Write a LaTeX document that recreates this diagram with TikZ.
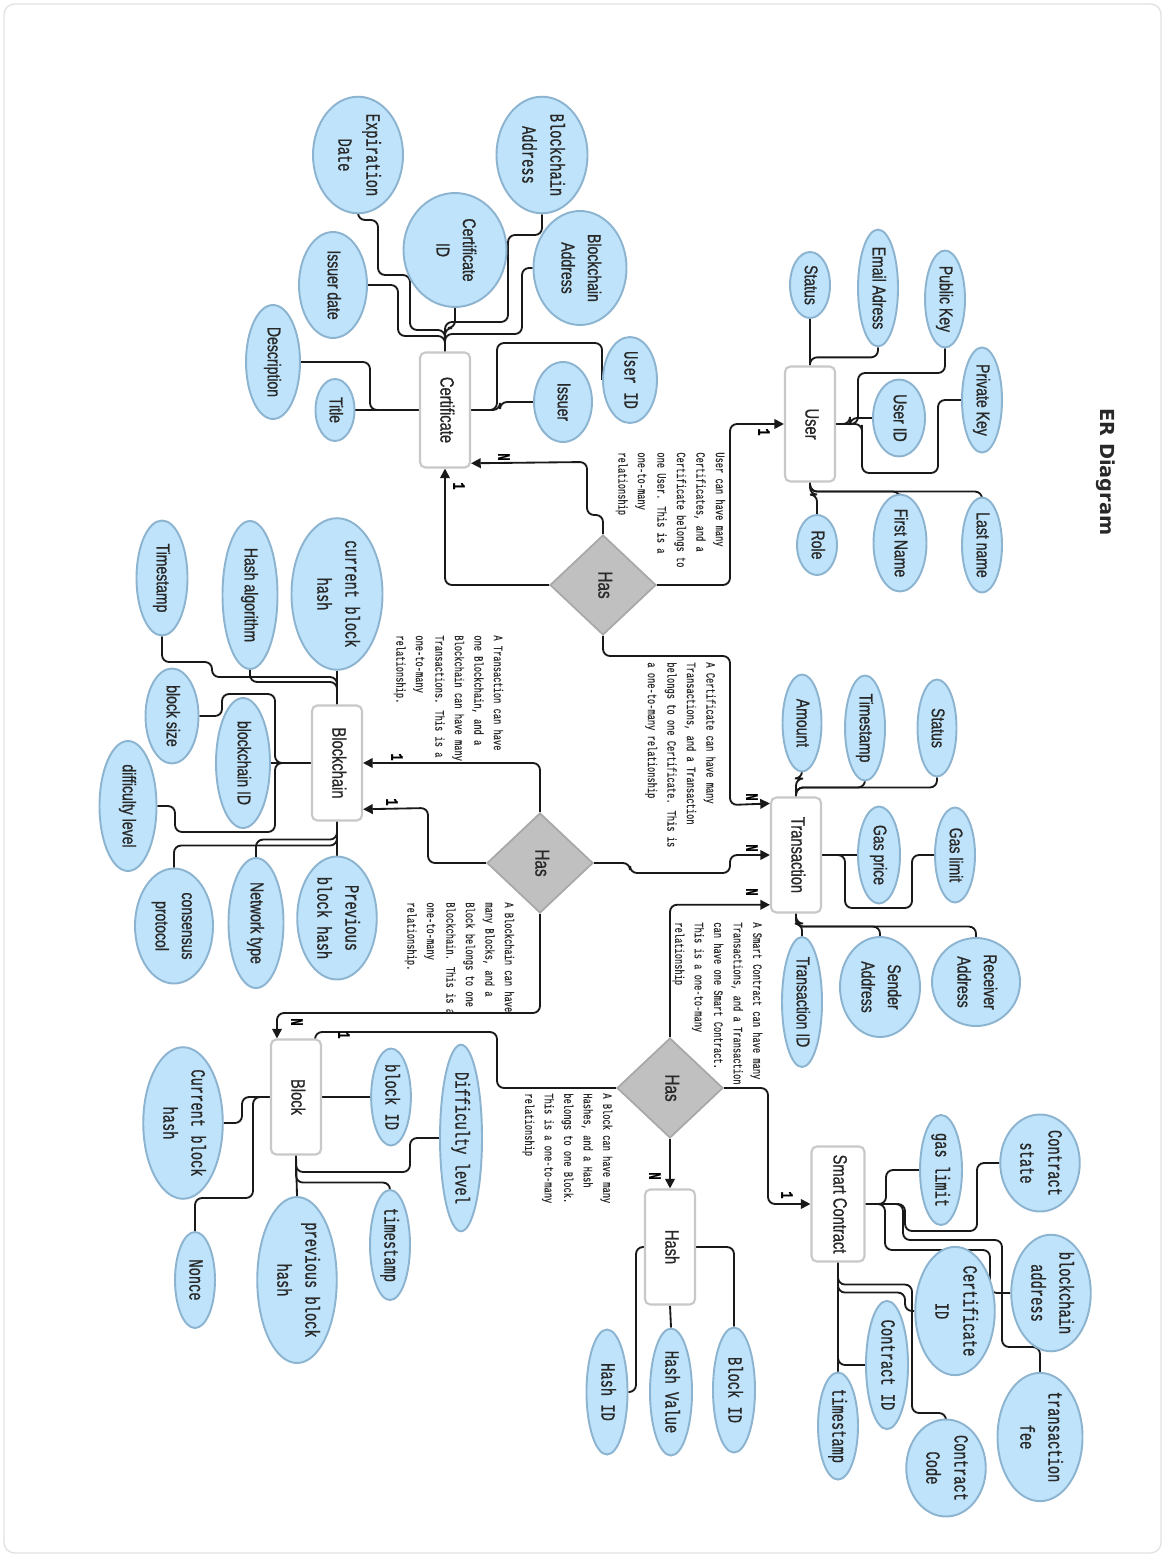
\documentclass[tikz,border=0pt]{standalone}
\usepackage{fontspec}
\usepackage{graphicx}
\setmainfont{Liberation Sans}
\newfontfamily\attrsans[FakeStretch=0.76, FakeBold=0.9]{Liberation Sans}
\newfontfamily\attrmono[FakeStretch=0.68, FakeBold=0.7]{Liberation Mono}
\newfontfamily\notemono[FakeStretch=0.68, FakeBold=0.3]{Liberation Mono}
\newfontfamily\titlefont{DejaVu Sans}
\usetikzlibrary{shapes.geometric, arrows.meta, backgrounds, calc}
\definecolor{attrfill}{RGB}{190,227,250}
\definecolor{attrline}{RGB}{140,180,208}
\definecolor{entline}{RGB}{200,200,200}
\definecolor{relfill}{RGB}{192,192,192}
\definecolor{relline}{RGB}{168,168,168}
\definecolor{inkgray}{RGB}{40,40,40}
\definecolor{pageline}{RGB}{226,226,226}
\newcommand{\vtext}[1]{\rotatebox{-90}{\begin{tabular}{@{}c@{}}#1\end{tabular}}}
\newcommand{\vnote}[1]{\rotatebox{-90}{\begin{tabular}{@{}l@{}}#1\end{tabular}}}
\tikzset{
  attr/.style 2 args={ellipse, draw=attrline, line width=1.1pt, fill=attrfill,
                      inner sep=0pt, minimum width=#1*0.02cm,
                      minimum height=#2*0.02cm, text=inkgray},
  sanslbl/.style={font=\attrsans\fontsize{10.5}{15}\selectfont},
  monolbl/.style={font=\attrmono\fontsize{11.5}{16}\selectfont},
  entity/.style={rectangle, rounded corners=3pt, draw=entline, line width=1.2pt,
                 fill=white, inner sep=0pt, minimum width=50*0.02cm,
                 minimum height=115*0.02cm, text=inkgray,
                 font=\attrsans\fontsize{11}{13}\selectfont},
  rel/.style={diamond, draw=relline, line width=1pt, fill=relfill, inner sep=0pt,
              minimum width=106*0.02cm, minimum height=100*0.02cm, text=inkgray,
              font=\attrsans\fontsize{11.5}{13}\selectfont},
  link/.style={line width=1.05pt, rounded corners=4pt, color=black!90},
  arrow/.style={link, -{Triangle[length=5.5pt, width=5.5pt]}},
  note/.style={inner sep=0pt, anchor=north, text=inkgray,
               font=\notemono\fontsize{7.3}{11.1}\selectfont},
  card/.style={inner sep=0pt, text=black,
               font=\attrmono\bfseries\fontsize{10}{11}\selectfont},
}

\begin{document}
\begin{tikzpicture}[x=0.02cm, y=-0.02cm]
  \useasboundingbox (0,0) rectangle (1166,1557);

  \node[font=\titlefont\bfseries\fontsize{11}{13}\selectfont, text=inkgray]
    (heading) at (1105,472) {\vtext{ER Diagram}};

  % Entities
  \node[entity] (cert) at (445,410) {\vtext{Certificate}};
  \node[entity] (user) at (810,424) {\vtext{User}};
  \node[entity] (bchain) at (337,763) {\vtext{Blockchain}};
  \node[entity] (trans) at (796,855) {\vtext{Transaction}};
  \node[entity] (block) at (296,1097) {\vtext{Block}};
  \node[entity] (hash) at (670,1247) {\vtext{Hash}};
  \node[entity, minimum width=53*0.02cm] (sc) at (838,1204) {\vtext{Smart Contract}};

  % Relationships
  \node[rel] (has1) at (603,585) {\vtext{Has}};
  \node[rel] (has2) at (540,863) {\vtext{Has}};
  \node[rel] (has3) at (670,1088) {\vtext{Has}};

  % Certificate attributes
  \node[attr={90}{115}, monolbl] (expd) at (358,155) {\vtext{Expiration\\Date}};
  \node[attr={91}{115}, monolbl] (bca1) at (542,155) {\vtext{Blockchain\\Address}};
  \node[attr={103}{114}, sanslbl] (cid) at (455,250) {\vtext{Certificate\\ID}};
  \node[attr={93}{114}, sanslbl] (bca2) at (580,268) {\vtext{Blockchain\\Address}};
  \node[attr={68}{106}, sanslbl] (isd) at (333,285) {\vtext{Issuer date}};
  \node[attr={54}{114}, sanslbl] (desc) at (273,362) {\vtext{Description}};
  \node[attr={39}{62}, sanslbl] (ctitle) at (335,410) {\vtext{Title}};
  \node[attr={58}{80}, sanslbl] (issuer) at (563,402) {\vtext{Issuer}};
  \node[attr={54}{86}, monolbl] (uid1) at (630,380) {\vtext{User ID}};

  % User attributes
  \node[attr={40}{66}, sanslbl] (ustat) at (810,285) {\vtext{Status}};
  \node[attr={40}{113}, sanslbl] (email) at (878,288) {\vtext{Email Adress}};
  \node[attr={40}{97}, sanslbl] (pkey) at (945,299) {\vtext{Public Key}};
  \node[attr={40}{105}, sanslbl] (prkey) at (982,400) {\vtext{Private Key}};
  \node[attr={52}{77}, sanslbl] (uid2) at (899,418) {\vtext{User ID}};
  \node[attr={40}{60}, sanslbl] (role) at (817,545) {\vtext{Role}};
  \node[attr={53}{93}, sanslbl] (fname) at (900,543) {\vtext{First Name}};
  \node[attr={40}{95}, sanslbl] (lname) at (982,545) {\vtext{Last name}};

  % Blockchain attributes
  \node[attr={91}{148}, monolbl] (cbh) at (337,594) {\vtext{current block\\hash}};
  \node[attr={55}{148}, sanslbl] (halg) at (250,595) {\vtext{Hash algorithm}};
  \node[attr={51}{115}, sanslbl] (bts) at (162,578) {\vtext{Timestamp}};
  \node[attr={53}{95}, sanslbl] (bsize) at (172,716) {\vtext{block size}};
  \node[attr={54}{130}, sanslbl] (bid) at (243,763) {\vtext{blockchain ID}};
  \node[attr={57}{130}, sanslbl] (dlevel) at (128,806) {\vtext{difficulty level}};
  \node[attr={77}{123}, monolbl] (pbh) at (337,918) {\vtext{Previous\\block hash}};
  \node[attr={55}{130}, sanslbl] (ntype) at (256,923) {\vtext{Network type}};
  \node[attr={78}{115}, sanslbl] (cprot) at (174,926) {\vtext{consensus\\protocol}};

  % Transaction attributes
  \node[attr={39}{97}, sanslbl] (amount) at (802,723) {\vtext{Amount}};
  \node[attr={40}{105}, sanslbl] (tts) at (865,728) {\vtext{Timestamp}};
  \node[attr={39}{97}, sanslbl] (tstat) at (937,728) {\vtext{Status}};
  \node[attr={42}{97}, sanslbl] (gprice) at (879,855) {\vtext{Gas price}};
  \node[attr={40}{95}, sanslbl] (glimit) at (955,855) {\vtext{Gas limit}};
  \node[attr={40}{130}, sanslbl] (tid) at (802,1002) {\vtext{Transaction ID}};
  \node[attr={80}{100}, sanslbl] (saddr) at (880,987) {\vtext{Sender\\Address}};
  \node[attr={88}{88}, sanslbl] (raddr) at (976,982) {\vtext{Receiver\\Address}};

  % Block attributes
  \node[attr={77}{148}, monolbl] (bcbh) at (183,1123) {\vtext{Current block\\hash}};
  \node[attr={39}{97}, monolbl] (bbid) at (391,1097) {\vtext{block ID}};
  \node[attr={42}{180}, monolbl] (bdl) at (461,1138) {\vtext{Difficulty level}};
  \node[attr={40}{110}, monolbl] (bts2) at (390,1245) {\vtext{timestamp}};
  \node[attr={79}{166}, monolbl] (bpbh) at (297,1280) {\vtext{previous block\\hash}};
  \node[attr={40}{96}, monolbl] (nonce) at (195,1280) {\vtext{Nonce}};

  % Hash attributes
  \node[attr={41}{125}, monolbl] (hid) at (607,1392) {\vtext{Hash ID}};
  \node[attr={42}{127}, monolbl] (hval) at (671,1392) {\vtext{Hash Value}};
  \node[attr={42}{125}, monolbl] (hbid) at (734,1390) {\vtext{Block ID}};

  % Smart Contract attributes
  \node[attr={42}{110}, monolbl] (sglim) at (941,1170) {\vtext{gas limit}};
  \node[attr={76}{97}, monolbl] (cstate) at (1040,1163) {\vtext{Contract\\state}};
  \node[attr={78}{115}, monolbl] (bcaddr) at (1051,1293) {\vtext{blockchain\\address}};
  \node[attr={75}{123}, monolbl] (sccid) at (955,1311) {\vtext{Certificate\\ID}};
  \node[attr={42}{125}, monolbl] (scid) at (887,1365) {\vtext{Contract ID}};
  \node[attr={40}{107}, monolbl] (tsc) at (838,1426) {\vtext{timestamp}};
  \node[attr={85}{125}, monolbl] (tfee) at (1040,1437) {\vtext{transaction\\fee}};
  \node[attr={77}{97}, monolbl] (ccode) at (946,1468) {\vtext{Contract\\Code}};

  % Relationship notes
  \node[note] (note1) at (671,452) {\vnote{User can have many\\Certificates, and a\\Certificate belongs to\\one User. This is a\\one-to-many\\relationship}};
  \node[note] (note2) at (681,662) {\vnote{A Certificate can have many\\Transactions, and a Transaction\\belongs to one Certificate. This is\\a one-to-many relationship}};
  \node[note] (note3) at (449,635) {\vnote{A Transaction can have\\one Blockchain, and a\\Blockchain can have many\\Transactions. This is a\\one-to-many\\relationship.}};
  \node[note] (note4) at (460,902) {\vnote{A Blockchain can have\\many Blocks, and a\\Block belongs to one\\Blockchain. This is a\\one-to-many\\relationship.}};
  \node[note] (note5) at (718,922) {\vnote{A Smart Contract can have many\\Transactions, and a Transaction\\can have one Smart Contract.\\This is a one-to-many\\relationship}};
  \node[note] (note6) at (568,1093) {\vnote{A Block can have many\\Hashes, and a Hash\\belongs to one Block.\\This is a one-to-many\\relationship}};

  \begin{scope}[on background layer]
    \draw[pageline, line width=0.8pt, rounded corners=6pt] (4,4) rectangle (1161,1553);

    % Certificate links
    \draw[link] (expd.south) |- (378,220) -- (378,275) -| (410,330) -| (cert.north);
    \draw[link] (bca1.south) -- (542,235) -| (508,322) -| (cert.north);
    \draw[link] (cid.south) -- (455,328) -| (cert.north);
    \draw[link] (isd.east) -| (398,336) -| (cert.north);
    \draw[link] (bca2.west) -| (522,334) -| (cert.north);
    \draw[link] (desc.east) -| (370,410) -- (cert.west);
    \draw[link] (ctitle.east) -- (cert.west);
    \draw[link] (issuer.west) -| (500,410) -- (cert.east);
    \draw[link] (cert.east) -| (497,343) -| (uid1.west);

    % Certificate relationship
    \draw[arrow] (has1.north) -- (603,515) -| (587,462) -- ([yshift=3pt]cert.south east)
      node[card] at (502,457) {\vtext{N}};
    \draw[arrow] (has1.west) -| (cert.south)
      node[card] at (457,486) {\vtext{1}};
    \draw[arrow] (has1.east) -| (730,424) -- (user.west)
      node[card] at (762,432) {\vtext{1}};
    \draw[arrow] (has1.south) -- (603,656) -| (730,805) -- ([yshift=-4pt]trans.north west)
      node[card] at (750,797) {\vtext{N}};

    % User links
    \draw[link] (ustat.south) -- (user.north);
    \draw[link] (email.south) -- ++(0,10) -| (user.north);
    \draw[link] (pkey.south) |- (858,373) |- (user.east);
    \draw[link] (uid2.west) -| (850,424) -- (user.east);
    \draw[link] (prkey.west) -| (938,473) -| (862,432) |- (user.east);
    \draw[link] (user.south) -- ++(0,12) -| (role.north);
    \draw[link] (user.south) -- ++(0,9) -| (fname.north);
    \draw[link] (user.south) -- ++(0,9) -| (lname.north);

    % Blockchain links
    \draw[link] (cbh.south) -- (bchain.north);
    \draw[link] (halg.south) -- ++(0,12) -| (bchain.north);
    \draw[link] (bts.south) |- (212,662) -- (212,677) -| (bchain.north);
    \draw[link] (bsize.east) -| (222,694) -| (275,763) -- (bchain.west);
    \draw[link] (bid.east) -- (bchain.west);
    \draw[link] (dlevel.east) -| (175,832) -| (275,763) -- (bchain.west);
    \draw[link] (bchain.south) -- (pbh.north);
    \draw[link] (bchain.south) -- ++(0,18) -| (ntype.north);
    \draw[link] (bchain.south) -- ++(0,24) -| (cprot.north);

    % Blockchain relationship
    \draw[arrow] (has2.north) |- (bchain.east)
      node[card] at (395,757) {\vtext{1}};
    \draw[arrow] (has2.west) -| (428,808) -- ([yshift=7pt]bchain.south east)
      node[card] at (390,802) {\vtext{1}};
    \draw[arrow] (has2.east) -- (630,863) |- (730,873) |- (trans.west)
      node[card] at (750,848) {\vtext{N}};
    \draw[arrow] (has2.south) -- (540,1013) -| ([xshift=4pt]block.north west)
      node[card] at (295,1022) {\vtext{N}};

    % Transaction links
    \draw[link] (amount.south) -- ++(0,6) -| (trans.north);
    \draw[link] (tts.south) -- ++(0,6) -| (trans.north);
    \draw[link] (tstat.south) -- ++(0,10) -| (trans.north);
    \draw[link] (trans.east) -- (gprice.west);
    \draw[link] (trans.east) -| (845,908) -| (912,855) -- (glimit.west);
    \draw[link] (trans.south) -- ++(0,10) -| (tid.north);
    \draw[link] (trans.south) -- ++(0,13) -| (saddr.north);
    \draw[link] (trans.south) -- ++(0,13) -| (raddr.north);

    % Block relationship
    \draw[arrow] (has3.north) |- ([yshift=5pt]trans.south west)
      node[card] at (750,892) {\vtext{N}};
    \draw[arrow] (has3.west) -| (497,1032) -| ([xshift=-4pt]block.north east)
      node[card] at (342,1035) {\vtext{1}};
    \draw[arrow] (has3.south) -- (hash.north)
      node[card] at (653,1176) {\vtext{N}};
    \draw[arrow] (has3.east) -| (768,1204) -- (sc.west)
      node[card] at (785,1195) {\vtext{1}};

    % Block links
    \draw[link] (bcbh.east) -| (242,1097) -- (block.west);
    \draw[link] (nonce.north) |- (253,1198) |- (block.west);
    \draw[link] (block.east) -- (bbid.west);
    \draw[link] (block.south) |- (410,1172) |- (bdl.west);
    \draw[link] (block.south) -- ++(0,27) -| (bts2.north);
    \draw[link] (block.south) -- (bpbh.north);

    % Hash links
    \draw[link] (hash.west) -| (636,1392) -- (hid.east);
    \draw[link] (hash.south) -- (hval.north);
    \draw[link] (hash.east) -| (hbid.north);

    % Smart Contract links
    \draw[link] (sglim.west) -| (886,1204) -- (sc.east);
    \draw[link] (cstate.west) -| (977,1231) -| (905,1204) -- (sc.east);
    \draw[link] (sc.east) -| (885,1250) -| (990,1293) -- (bcaddr.west);
    \draw[link] (sc.east) -| (903,1240) -| (1002,1347) -| (tfee.north);
    \draw[link] (sc.south) -- ++(0,30) -| (905,1311) -- (sccid.west);
    \draw[link] (sc.south) -- ++(0,22) -| (912,1413) -| (ccode.north);
    \draw[link] (sc.south) |- (scid.west);
    \draw[link] (sc.south) -- (tsc.north);
  \end{scope}
\end{tikzpicture}
\end{document}
